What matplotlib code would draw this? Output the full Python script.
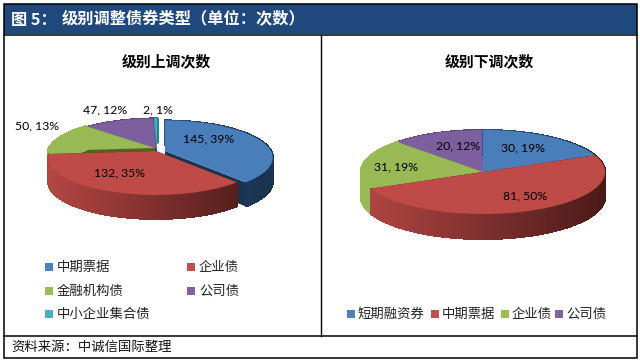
import numpy as np
import matplotlib
matplotlib.use("Agg")
import matplotlib.pyplot as plt
from matplotlib.patches import Rectangle

plt.rcParams['font.family'] = ['Noto Sans CJK SC', 'DejaVu Sans']

header = "图 5："
header2 = "级别调整债券类型（单位：次数）"
source = "资料来源：中诚信国际整理"

title_up = "级别上调次数"
names_up = ["中期票据", "企业债", "金融机构债", "公司债", "中小企业集合债"]
values_up = [145, 132, 50, 47, 2]
pcts_up = [39, 35, 13, 12, 1]

title_down = "级别下调次数"
names_down = ["短期融资券", "中期票据", "企业债", "公司债"]
values_down = [30, 81, 31, 20]
pcts_down = [19, 50, 19, 12]

top_colors = ["#4a7ebb", "#be4b48", "#98b954", "#7d5fa0", "#46aac5"]
dark_colors = ["#1a3350", "#4a1a18", "#4f6420", "#3f2c58", "#1d5f70"]
legend_colors = ["#4f81bd", "#c0504d", "#9bbb59", "#8064a2", "#4bacc6"]
navy = "#1f497d"


def project(ang, r, cx, cy, rx, ry, k):
    u = r * np.sin(ang)
    v = -r * np.cos(ang)
    s = 1 / (1 - k * v)
    return cx + rx * u * s, cy + ry * v * s


def mix(a, b, t):
    a = np.array(matplotlib.colors.to_rgb(a))
    b = np.array(matplotlib.colors.to_rgb(b))
    return tuple(a + (b - a) * t)


def draw_pie(ax, values, cx, cy, rx, ry, depth, k, shift, order, flat):
    edges = np.cumsum([0] + values) / sum(values) * 2 * np.pi
    for n, i in enumerate(order):
        a0, a1 = edges[i], edges[i + 1]
        ox = cx + shift[i][0]
        oy = cy + shift[i][1]
        ang = np.linspace(a0, a1, 150)
        x, y = project(ang, 1, ox, oy, rx, ry, k)
        # flat cut walls
        for a in (a0, a1):
            ex, ey = project(a, 1, ox, oy, rx, ry, k)
            ax.fill([ox, ex, ex, ox], [oy, ey, ey + depth, oy + depth],
                    color=dark_colors[i], lw=0, zorder=2 + n * 3)
        # outer wall in thin strips so the shade follows x
        for j in range(len(ang) - 1):
            t = np.clip((x[j] - cx + rx) / (2 * rx), 0, 1)
            c = top_colors[i] if i in flat else mix(top_colors[i], dark_colors[i], 0.1 + 0.9 * t)
            ax.fill([x[j], x[j + 1], x[j + 1], x[j]],
                    [y[j], y[j + 1], y[j + 1] + depth, y[j] + depth],
                    color=c, lw=0.8, antialiased=False, zorder=3 + n * 3)
        ax.fill(np.r_[ox, x], np.r_[oy, y], color=top_colors[i], lw=0, zorder=4 + n * 3)


fig = plt.figure(figsize=(6.4, 3.62), dpi=100)
ax = fig.add_axes([0, 0, 1, 1])
ax.set_xlim(0, 640)
ax.set_ylim(362, 0)
ax.axis("off")

# frame
ax.add_patch(Rectangle((3.5, 4), 633.5, 30, fc=navy, ec="none", zorder=1))
ax.add_patch(Rectangle((3.5, 3.5), 633.5, 354.5, fc="none", ec="black", lw=1.1, zorder=40))
ax.plot([3.5, 637], [34.5, 34.5], color="black", lw=1.1, zorder=40)
ax.plot([3.5, 637], [336, 336], color="black", lw=1.1, zorder=40)
ax.plot([320.5, 320.5], [34.5, 336], color="black", lw=1, zorder=40)

ax.text(11, 19.5, header, color="white", fontsize=11.7, fontweight="bold", va="center", zorder=41)
ax.text(62, 19.5, header2, color="white", fontsize=11.7, fontweight="bold", va="center", zorder=41)
ax.text(166, 61, title_up, fontsize=10.7, fontweight="bold", ha="center", va="center", color="black")
ax.text(489, 61, title_down, fontsize=10.7, fontweight="bold", ha="center", va="center", color="black")
ax.text(11, 347, source, fontsize=9.6, style="italic", va="center", color="#111111")

# left pie
draw_pie(ax, values_up, 156, 151, 106, 36, 24, 0.18,
         [(9, 0), (0, 0), (-1, -3), (0, -2), (1, -2)],
         [4, 3, 2, 0, 1], [2])
# right pie
draw_pie(ax, values_down, 483, 172, 122, 42, 25, 0.0,
         [(0, 0)] * 4, [3, 0, 2, 1], [2])

labels_up = [f"{v}, {p}%" for v, p in zip(values_up, pcts_up)]
for s, xx, yy in zip(labels_up, [209, 119, 37, 105, 158], [139, 173, 126, 110, 110]):
    ax.text(xx, yy, s, fontsize=8.8, family=["Lato", "DejaVu Sans"], ha="center", va="center", color="black", zorder=30)
labels_down = [f"{v}, {p}%" for v, p in zip(values_down, pcts_down)]
for s, xx, yy in zip(labels_down, [523, 525, 396, 458], [148, 196, 167, 146]):
    ax.text(xx, yy, s, fontsize=8.8, family=["Lato", "DejaVu Sans"], ha="center", va="center", color="black", zorder=30)

# legends
leg_x = [45, 187, 45, 187, 45]
leg_y = [267, 267, 291, 291, 314]
for i, nm in enumerate(names_up):
    ax.add_patch(Rectangle((leg_x[i], leg_y[i] - 4), 8, 8, fc=legend_colors[i], ec="none"))
    ax.text(leg_x[i] + 12, leg_y[i], nm, fontsize=9.6, va="center", color="#222222")

leg_x2 = [347, 431, 501, 555]
for i, nm in enumerate(names_down):
    ax.add_patch(Rectangle((leg_x2[i], 310), 8, 8, fc=legend_colors[i], ec="none"))
    ax.text(leg_x2[i] + 11, 314, nm, fontsize=9.6, va="center", color="#222222")

fig.savefig("out.png", dpi=100)
